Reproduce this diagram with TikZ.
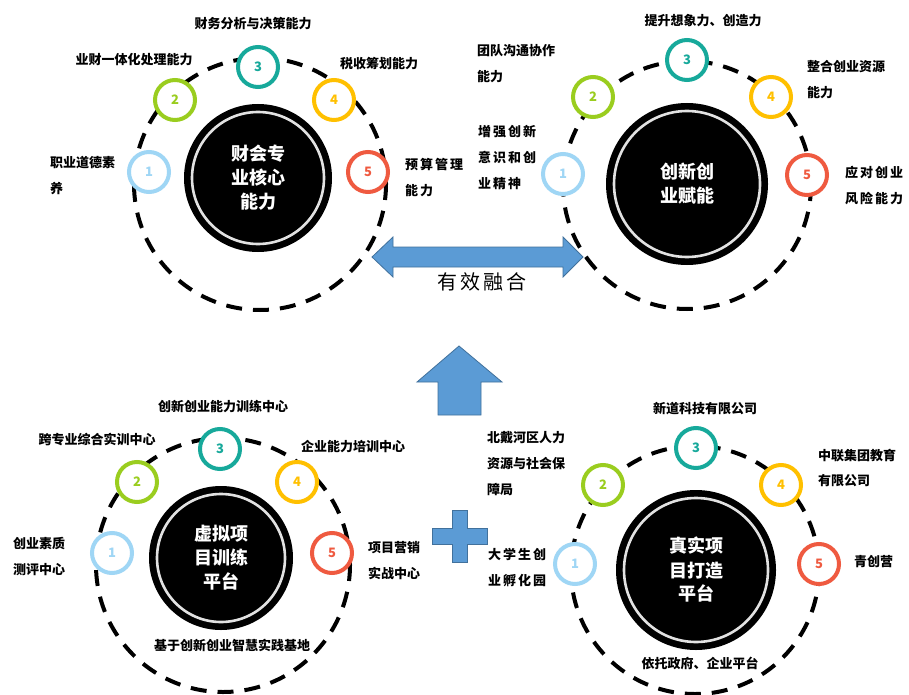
\documentclass[tikz,border=0pt]{standalone}
\usepackage{fontspec}
\newfontfamily\cjk{Noto Sans CJK SC}
\newfontfamily\cjksp{Noto Sans CJK SC}[LetterSpace=15]
\newfontfamily\cjkbig{Noto Sans CJK SC}[LetterSpace=14]
\definecolor{cA}{HTML}{9FD6F5}
\definecolor{cB}{HTML}{9ACD1F}
\definecolor{cC}{HTML}{17A99B}
\definecolor{cD}{HTML}{FFC000}
\definecolor{cE}{HTML}{EF5A40}
\definecolor{arrowfill}{HTML}{5B9BD5}
\definecolor{arrowline}{HTML}{41719C}
\definecolor{ringgray}{HTML}{E2E2E2}
\begin{document}
\begin{tikzpicture}[x=1pt,y=-1pt,
  dashring/.style={draw=black,line width=4pt,dash pattern=on 16pt off 11pt},
  core/.style={circle,fill=black,draw=none,inner sep=0pt,text=white,align=center,
    font=\cjk\bfseries\fontsize{18}{24}\selectfont},
  innerring/.style={draw=ringgray,line width=2.6pt},
  numring/.style={circle,draw=#1,text=#1,fill=white,line width=4pt,minimum size=40pt,inner sep=0pt,
    font=\cjk\bfseries\fontsize{13}{13}\selectfont},
  lab/.style={inner sep=0pt,align=left,font=\cjk\bfseries\fontsize{13}{26}\selectfont},
  labsp/.style={inner sep=0pt,align=left,font=\cjksp\bfseries\fontsize{13}{26}\selectfont},
  bluearrow/.style={fill=arrowfill,draw=arrowline,line width=0.8pt,line join=miter}
]
\useasboundingbox (0,0) rectangle (909,695);
\fill[white] (0,0) rectangle (909,695);

% ---------- dashed orbits ----------
\coordinate (oTL) at (260,184);
\coordinate (oTR) at (687,185);
\coordinate (oBL) at (223,565);
\coordinate (oBR) at (695,570);
\draw[dashring] (oTL) circle[radius=126];
\draw[dashring] (oTR) circle[radius=124];
\draw[dashring] (oBL) circle[radius=127];
\draw[dashring] (oBR) circle[radius=124];

% ---------- blue arrows ----------
\draw[bluearrow] (372,257) -- (393,237) -- (393,247) -- (563,247) -- (563,237) -- (583,257)
  -- (563,277) -- (563,267) -- (393,267) -- (393,277) -- cycle;
\draw[bluearrow] (459,346) -- (502,382) -- (481,382) -- (481,415) -- (438,415) -- (438,382)
  -- (417,382) -- cycle;
\draw[bluearrow] (452,510) -- (467,510) -- (467,528) -- (487,528) -- (487,544) -- (467,544)
  -- (467,562) -- (452,562) -- (452,544) -- (432,544) -- (432,528) -- (452,528) -- cycle;
\node[inner sep=0pt,font=\cjkbig\fontsize{20}{24}\selectfont] (fuse) at (482,282) {有效融合};

% ---------- top-left cluster ----------
\node[core,minimum size=148pt] (TL) at (258,178) {财会专\\业核心\\能力};
\draw[innerring] (TL.center) circle[radius=66];
\node[numring=cA] (TL1) at (149,172) {1};
\node[numring=cB] (TL2) at (175,100) {2};
\node[numring=cC] (TL3) at (258,67) {3};
\node[numring=cD] (TL4) at (334,100) {4};
\node[numring=cE] (TL5) at (368,172) {5};
\node[lab] (tlA) at (253,24) {财务分析与决策能力};
\node[lab] (tlB) at (134,60) {业财一体化处理能力};
\node[lab] (tlC) at (379,64) {税收筹划能力};
\node[lab,anchor=north west] (tlD) at (50,156) {职业道德素\\养};
\node[labsp,anchor=north west] (tlE) at (405,158) {预算管理\\能力};

% ---------- top-right cluster ----------
\node[core,minimum size=162pt] (TR) at (687,184) {创新创\\业赋能};
\draw[innerring] (TR.center) circle[radius=73];
\node[numring=cA] (TR1) at (563,174) {1};
\node[numring=cB] (TR2) at (593,97) {2};
\node[numring=cC] (TR3) at (687,60) {3};
\node[numring=cD] (TR4) at (771,97) {4};
\node[numring=cE] (TR5) at (807,175) {5};
\node[lab] (trA) at (703,21) {提升想象力、创造力};
\node[lab,anchor=north west] (trB) at (477,44) {团队沟通协作\\能力};
\node[lab,anchor=north west] (trC) at (807,60) {整合创业资源\\能力};
\node[labsp,anchor=north west] (trD) at (478,125) {增强创新\\意识和创\\业精神};
\node[labsp,anchor=north west] (trE) at (845,166) {应对创业\\风险能力};

% ---------- bottom-left cluster ----------
\node[core,minimum size=144pt] (BL) at (221,558) {虚拟项\\目训练\\平台};
\draw[innerring] (BL.center) circle[radius=64];
\node[numring=cA] (BL1) at (112,553) {1};
\node[numring=cB] (BL2) at (137,482) {2};
\node[numring=cC] (BL3) at (220,449) {3};
\node[numring=cD] (BL4) at (297,482) {4};
\node[numring=cE] (BL5) at (332,553) {5};
\node[lab] (blA) at (223,407) {创新创业能力训练中心};
\node[lab] (blB) at (97,440) {跨专业综合实训中心};
\node[lab] (blC) at (353,447) {企业能力培训中心};
\node[lab,anchor=north west] (blD) at (13,537) {创业素质\\测评中心};
\node[lab,anchor=north west] (blE) at (368,541) {项目营销\\实战中心};
\node[lab] (blF) at (232,645) {基于创新创业智慧实践基地};

% ---------- bottom-right cluster ----------
\node[core,minimum size=160pt] (BR) at (696,570) {真实项\\目打造\\平台};
\draw[innerring] (BR.center) circle[radius=72];
\node[numring=cA] (BR1) at (575,564) {1};
\node[numring=cB] (BR2) at (603,485) {2};
\node[numring=cC] (BR3) at (696,448) {3};
\node[numring=cD] (BR4) at (781,485) {4};
\node[numring=cE] (BR5) at (819,564) {5};
\node[lab] (brA) at (705,409) {新道科技有限公司};
\node[lab,anchor=north west] (brB) at (487,431) {北戴河区人力\\资源与社会保\\障局};
\node[lab,anchor=north west,font=\cjk\bfseries\fontsize{13}{25}\selectfont] (brC) at (818,449) {中联集团教育\\有限公司};
\node[labsp,anchor=north west] (brD) at (488,548) {大学生创\\业孵化园};
\node[lab,anchor=west] (brE) at (854,562) {青创营};
\node[lab] (brF) at (700,663) {依托政府、企业平台};
\end{tikzpicture}
\end{document}
